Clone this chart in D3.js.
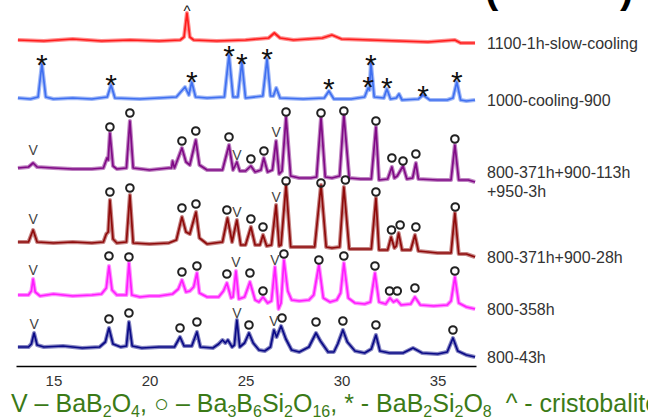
<!DOCTYPE html>
<html>
<head>
<meta charset="utf-8">
<script src="https://cdn.jsdelivr.net/npm/d3@7/dist/d3.min.js"></script>
<style>
  body { margin: 0; background: #fff; }
  svg { display: block; font-family: "Liberation Sans", Arial, sans-serif; }
</style>
</head>
<body>
<svg id="xrd" width="648" height="417"></svg>
<script>
// each pattern: [2theta, intensity above the pattern's own zero]
var slowCooling1100 = [
  [13.15, 0], [14.5, -1], [16.0, 1], [17.5, -1], [19.0, 0], [20.5, -1], [21.6, 0], [21.8, 3],
  [21.95, 27], [22.1, 3], [22.3, 0], [23.5, -1], [25.0, 0], [26.2, 2], [26.5, 7], [26.8, 2],
  [27.5, 0], [29.0, 2], [29.5, 5], [30.0, 1], [31.5, 0], [33.0, -1], [34.5, -2], [35.9, 0],
  [36.2, -3], [36.95, -3]
];
var cooling1000to900 = [
  [13.15, 0], [13.8, -1], [14.2, 1], [14.4, 34], [14.6, 1], [15.0, -1], [16.0, 0], [17.0, -1],
  [17.8, 1], [18.0, 13], [18.2, 0], [19.5, -1], [20.5, 0], [21.4, 1], [21.85, 11], [22.05, 3],
  [22.2, 16], [22.4, 1], [23.0, 0], [23.9, 1], [24.14, 43], [24.35, 1], [24.6, 1], [24.81, 36],
  [25.0, 0], [25.9, 2], [26.12, 39], [26.3, 2], [26.45, 2], [26.6, 10], [26.8, 0], [28.0, -1],
  [29.1, 0], [29.34, 7], [29.6, -1], [30.5, -1], [31.2, 1], [31.38, 10], [31.45, 8], [31.53, 35],
  [31.7, 1], [32.2, 0], [32.36, 9], [32.55, -1], [32.85, 0], [32.99, 4], [33.15, -2], [34.0, -1],
  [34.24, 3], [34.6, -2], [35.5, -2], [35.8, 0], [36.0, 16], [36.2, -2], [36.5, -3], [36.95, -2]
];
var anneal950 = [
  [13.15, 0], [13.7, 1], [13.94, 5], [14.15, 1], [15.0, 0], [16.0, -1], [17.0, -1], [17.6, 0],
  [17.79, 10], [17.85, 8], [17.94, 35], [18.1, 2], [18.3, -1], [18.8, 0], [18.98, 47], [19.15, 0],
  [20.0, -2], [21.0, 0], [21.15, 0], [21.2, 7], [21.3, 0], [21.69, 20], [21.9, 6], [22.1, 3],
  [22.41, 28], [22.6, 3], [23.0, -2], [23.8, -2], [24.14, 23], [24.35, -2], [24.55, 6], [24.7, -3],
  [25.0, -3], [25.28, 2], [25.5, -4], [25.8, -2], [25.95, 10], [26.15, -4], [26.4, -2], [26.59, 27],
  [26.75, -6], [26.9, -3], [27.11, 51], [27.35, -8], [27.8, -10], [28.4, -10], [28.7, -9], [28.93, 50],
  [29.15, -9], [29.5, -10], [29.9, -8], [30.12, 53], [30.4, -10], [31.0, -11], [31.55, -11], [31.79, 41],
  [31.95, -12], [32.4, -11], [32.62, 1], [32.75, -10], [32.9, -8], [33.2, 2], [33.4, -11], [33.7, -10],
  [33.87, 5], [34.0, -11], [35.0, -12], [35.7, -12], [35.9, 23], [36.1, -12], [36.6, -12], [36.95, -14]
];
var anneal900 = [
  [13.15, 0], [13.7, 0], [13.94, 12], [14.15, 0], [15.0, -1], [16.0, 0], [17.0, -1], [17.6, 0],
  [17.75, 8], [17.85, 10], [17.94, 42], [18.1, 3], [18.3, -1], [18.8, 0], [18.98, 47], [19.15, -1],
  [20.0, -2], [21.0, -1], [21.4, 2], [21.69, 25], [21.9, 10], [22.1, 8], [22.42, 30], [22.6, 4],
  [23.0, -2], [23.8, 0], [24.06, 24], [24.3, 0], [24.55, 22], [24.75, -3], [25.0, -3], [25.28, 15],
  [25.5, -3], [25.75, -3], [25.91, 7], [26.1, -4], [26.35, -3], [26.59, 37], [26.75, -4], [26.85, -3],
  [27.11, 57], [27.35, -5], [28.0, -5], [28.6, -5], [28.93, 57], [29.2, -5], [29.5, -6], [29.9, -5],
  [30.12, 55], [30.4, -7], [31.0, -7], [31.55, -7], [31.79, 44], [31.95, -8], [32.4, -8], [32.58, 5],
  [32.75, -6], [32.85, -4], [32.97, 9], [33.15, -8], [33.6, -8], [33.82, 7], [34.0, -9], [35.0, -11],
  [35.7, -11], [35.9, 29], [36.1, -12], [36.5, -12], [36.95, -15]
];
var anneal800long = [
  [13.15, 0], [13.7, 0], [13.85, 4], [13.94, 16], [14.05, 3], [14.3, -1], [15.0, 1], [16.0, -1],
  [17.0, 0], [17.5, 1], [17.75, 7], [17.89, 29], [18.05, 5], [18.3, 0], [18.8, 0], [18.93, 32],
  [19.08, 0], [19.5, -2], [20.0, -1], [20.5, -1], [21.2, 1], [21.5, 6], [21.69, 15], [21.9, 3],
  [22.1, 4], [22.3, 8], [22.47, 22], [22.6, 2], [23.0, -2], [23.6, -2], [23.85, 4], [24.03, 12],
  [24.25, -3], [24.35, -2], [24.5, 24], [24.65, -4], [24.95, -2], [25.23, 13], [25.5, -5], [25.7, -7],
  [25.91, -2], [26.15, -8], [26.35, -6], [26.53, 28], [26.72, -14], [26.85, -8], [27.0, 35], [27.2, 4],
  [27.4, -5], [27.8, -6], [28.3, -5], [28.55, 0], [28.82, 30], [29.05, -3], [29.4, -7], [29.75, -5],
  [29.95, 2], [30.12, 32], [30.35, -3], [30.7, -8], [31.2, -9], [31.5, -7], [31.74, 22], [31.95, -7],
  [32.3, -9], [32.52, -3], [32.7, -7], [32.88, -5], [33.1, -10], [33.6, -9], [33.82, -2], [34.1, -10],
  [34.8, -11], [35.5, -10], [35.7, -6], [35.9, 18], [36.1, -8], [36.5, -12], [36.95, -14]
];
var anneal800short = [
  [13.15, 0], [13.7, 0], [13.85, 3], [13.99, 14], [14.15, 2], [14.5, 0], [15.5, 1], [16.5, -1],
  [17.4, 0], [17.7, 5], [17.89, 19], [18.1, 3], [18.5, 0], [18.8, 1], [18.93, 25], [19.1, 1],
  [19.6, -1], [20.5, 0], [21.3, 0], [21.59, 10], [21.8, 1], [22.2, 1], [22.47, 15], [22.65, 0],
  [23.3, -1], [23.6, 3], [23.8, 7], [23.95, 4], [24.08, 7], [24.3, 0], [24.42, 2], [24.55, 27],
  [24.7, 0], [24.95, 4], [25.18, 14], [25.4, 4], [25.7, -3], [26.0, -4], [26.3, 0], [26.48, 17],
  [26.62, 10], [26.85, 21], [27.1, 8], [27.4, -3], [27.8, -5], [28.3, 0], [28.67, 14], [28.9, 6],
  [29.3, -5], [29.6, -5], [29.8, 3], [30.07, 17], [30.3, 5], [30.7, -4], [31.2, -6], [31.55, -2],
  [31.79, 12], [32.0, -4], [32.5, -6], [33.2, -6], [33.72, -1], [34.2, -6], [35.0, -7], [35.5, -5],
  [35.8, 9], [36.05, -4], [36.5, -8], [36.95, -10]
];

// phase marks: [2theta, intensity, symbol]
var marks1100 = [[21.95, 32, "^"]];
var marks1000 = [
  [14.4, 40, "*"], [18.0, 20, "*"], [22.21, 23, "*"], [24.14, 49, "*"], [24.81, 41, "*"], [26.12, 46, "*"],
  [29.34, 16, "*"], [31.38, 18, "*"], [31.53, 40, "*"], [32.36, 17, "*"], [34.24, 9, "*"], [36.0, 23, "*"]
];
var marks950 = [
  [13.94, 18, "V"], [17.94, 41, "o"], [18.98, 55, "o"], [21.69, 27, "o"], [22.41, 37, "o"], [24.14, 31, "o"],
  [24.55, 13, "V"], [25.28, 9, "o"], [25.96, 17, "o"], [26.59, 36, "V"], [27.11, 56, "o"], [28.93, 55, "o"],
  [30.12, 57, "o"], [31.79, 47, "o"], [32.62, 10, "o"], [33.2, 7, "o"], [33.87, 14, "o"], [35.9, 29, "o"]
];
var marks900 = [
  [13.94, 23, "V"], [17.94, 50, "o"], [18.98, 54, "o"], [21.69, 34, "o"], [22.42, 38, "o"], [24.03, 32, "o"],
  [24.55, 30, "V"], [25.28, 23, "o"], [25.91, 15, "o"], [26.59, 45, "V"], [27.11, 61, "o"], [28.93, 59, "o"],
  [30.2, 62, "o"], [31.79, 50, "o"], [32.6, 12, "o"], [33.05, 17, "o"], [33.87, 15, "o"], [35.92, 35, "o"]
];
var marks800long = [
  [13.94, 25, "V"], [17.89, 39, "o"], [18.93, 38, "o"], [21.69, 23, "o"], [22.47, 29, "o"], [24.03, 21, "o"],
  [24.5, 33, "V"], [25.23, 22, "o"], [25.91, 4, "o"], [26.53, 35, "V"], [27.0, 41, "o"], [28.82, 35, "o"],
  [30.12, 39, "o"], [31.74, 29, "o"], [32.5, 4, "o"], [32.9, 4, "o"], [33.82, 7, "o"], [35.9, 24, "o"]
];
var marks800short = [
  [13.99, 23, "V"], [17.89, 28, "o"], [18.93, 34, "o"], [21.59, 19, "o"], [22.47, 25, "o"], [24.55, 34, "V"],
  [25.18, 22, "o"], [26.48, 26, "V"], [26.9, 29, "o"], [28.67, 25, "o"], [30.07, 26, "o"], [31.79, 22, "o"],
  [35.8, 17, "o"]
];

var patternLabels = [
  ["1100-1h-slow-cooling"], ["1000-cooling-900"], ["800-371h+900-113h", "+950-3h"],
  ["800-371h+900-28h"], ["800-358h"], ["800-43h"]
];
var patternOffsets = [326, 268, 198, 124, 71, 19];
var xTicks = [15, 20, 25, 30, 35];
var legendParts = [
  ["V – BaB", 0], ["2", 1], ["O", 0], ["4", 1], [", ○ – Ba", 0], ["3", 1], ["B", 0], ["6", 1],
  ["Si", 0], ["2", 1], ["O", 0], ["16", 1], [", * - BaB", 0], ["2", 1], ["Si", 0], ["2", 1],
  ["O", 0], ["8", 1], ["  ^ - cristobalite", 0]
];

var patterns = [slowCooling1100, cooling1000to900, anneal950, anneal900, anneal800long, anneal800short];
var patternMarks = [marks1100, marks1000, marks950, marks900, marks800long, marks800short];
var colors = ["#ff1c1c", "#3f6ff0", "#800a86", "#8e0a0a", "#ff1cff", "#0a0a86"];

var svg = d3.select("#xrd");

var x = d3.scaleLinear().domain([13.05, 37]).range([16, 476]);
var y = d3.scaleLinear().domain([0, 360]).range([366, 6]);

// clipped title above the plot, only the bottom of the brackets shows
svg.append("text").attr("x", 485).attr("y", 3)
   .style("font-size", "40px").style("font-weight", "bold").text("(");
svg.append("text").attr("x", 620).attr("y", 3)
   .style("font-size", "40px").style("font-weight", "bold").text(")");

var g = svg.append("g");

patterns.forEach(function(pts, i) {
  var off = patternOffsets[i];
  var line = d3.line()
      .x(function(d) { return x(d[0]); })
      .y(function(d) { return y(off + d[1]); });

  // wide pale stroke stands in for the counting noise band
  g.append("path").datum(pts)
      .attr("d", line)
      .style("fill", "none")
      .style("stroke", colors[i])
      .style("stroke-opacity", 0.5)
      .style("stroke-width", 4)
      .style("stroke-linejoin", "round");

  g.append("path").datum(pts)
      .attr("d", line)
      .style("fill", "none")
      .style("stroke", colors[i])
      .style("stroke-width", 1.7)
      .style("stroke-linejoin", "round");

  // phase marks
  var marks = g.append("g").attr("class", "marks");
  marks.selectAll("circle")
      .data(patternMarks[i].filter(function(d) { return d[2] == "o"; }))
      .enter().append("circle")
      .attr("cx", function(d) { return x(d[0]); })
      .attr("cy", function(d) { return y(off + d[1]); })
      .attr("r", 3.8)
      .style("fill", "none")
      .style("stroke", "#222")
      .style("stroke-width", 2);

  marks.selectAll("text")
      .data(patternMarks[i].filter(function(d) { return d[2] != "o"; }))
      .enter().append("text")
      .attr("x", function(d) { return x(d[0]); })
      .attr("y", function(d) {
        var shift = d[2] == "*" ? 17 : d[2] == "^" ? 8 : 5;
        return y(off + d[1]) + shift;
      })
      .attr("text-anchor", "middle")
      .style("font-size", function(d) { return d[2] == "*" ? "30px" : d[2] == "^" ? "15px" : "14px"; })
      .style("fill", function(d) { return d[2] == "V" ? "#444" : "#111"; })
      .text(function(d) { return d[2]; });

  // pattern name at the right end of its trace
  var last = pts[pts.length - 1];
  var lines = patternLabels[i];
  var cy = y(off + last[1]) - (lines.length - 1) * 9.5;
  var label = svg.append("text")
      .attr("x", 487)
      .attr("y", cy)
      .style("font-size", "16px")
      .style("fill", "#333");
  lines.forEach(function(t, k) {
    label.append("tspan").attr("x", 487).attr("dy", k == 0 ? "0.35em" : "19px").text(t);
  });
});

var axis = d3.axisBottom(x).tickValues(xTicks).tickSize(0).tickPadding(9);
var ax = svg.append("g").attr("transform", "translate(0,366)").call(axis);
ax.select(".domain").style("stroke", "#000").style("stroke-width", 1.5);
ax.selectAll("text").style("font-size", "15px").style("fill", "#333")
  .style("font-family", "\"Liberation Sans\", Arial, sans-serif");

// phase legend
var legend = svg.append("text")
    .attr("x", 11).attr("y", 412)
    .style("font-size", "25px")
    .style("fill", "#3b7a17")
    .style("white-space", "pre");
legendParts.forEach(function(p, k) {
  var prevSub = k > 0 && legendParts[k - 1][1];
  var dy = p[1] && !prevSub ? 5 : !p[1] && prevSub ? -5 : 0;
  legend.append("tspan")
      .attr("dy", dy)
      .style("font-size", p[1] ? "16px" : "25px")
      .text(p[0]);
});
</script>
</body>
</html>
